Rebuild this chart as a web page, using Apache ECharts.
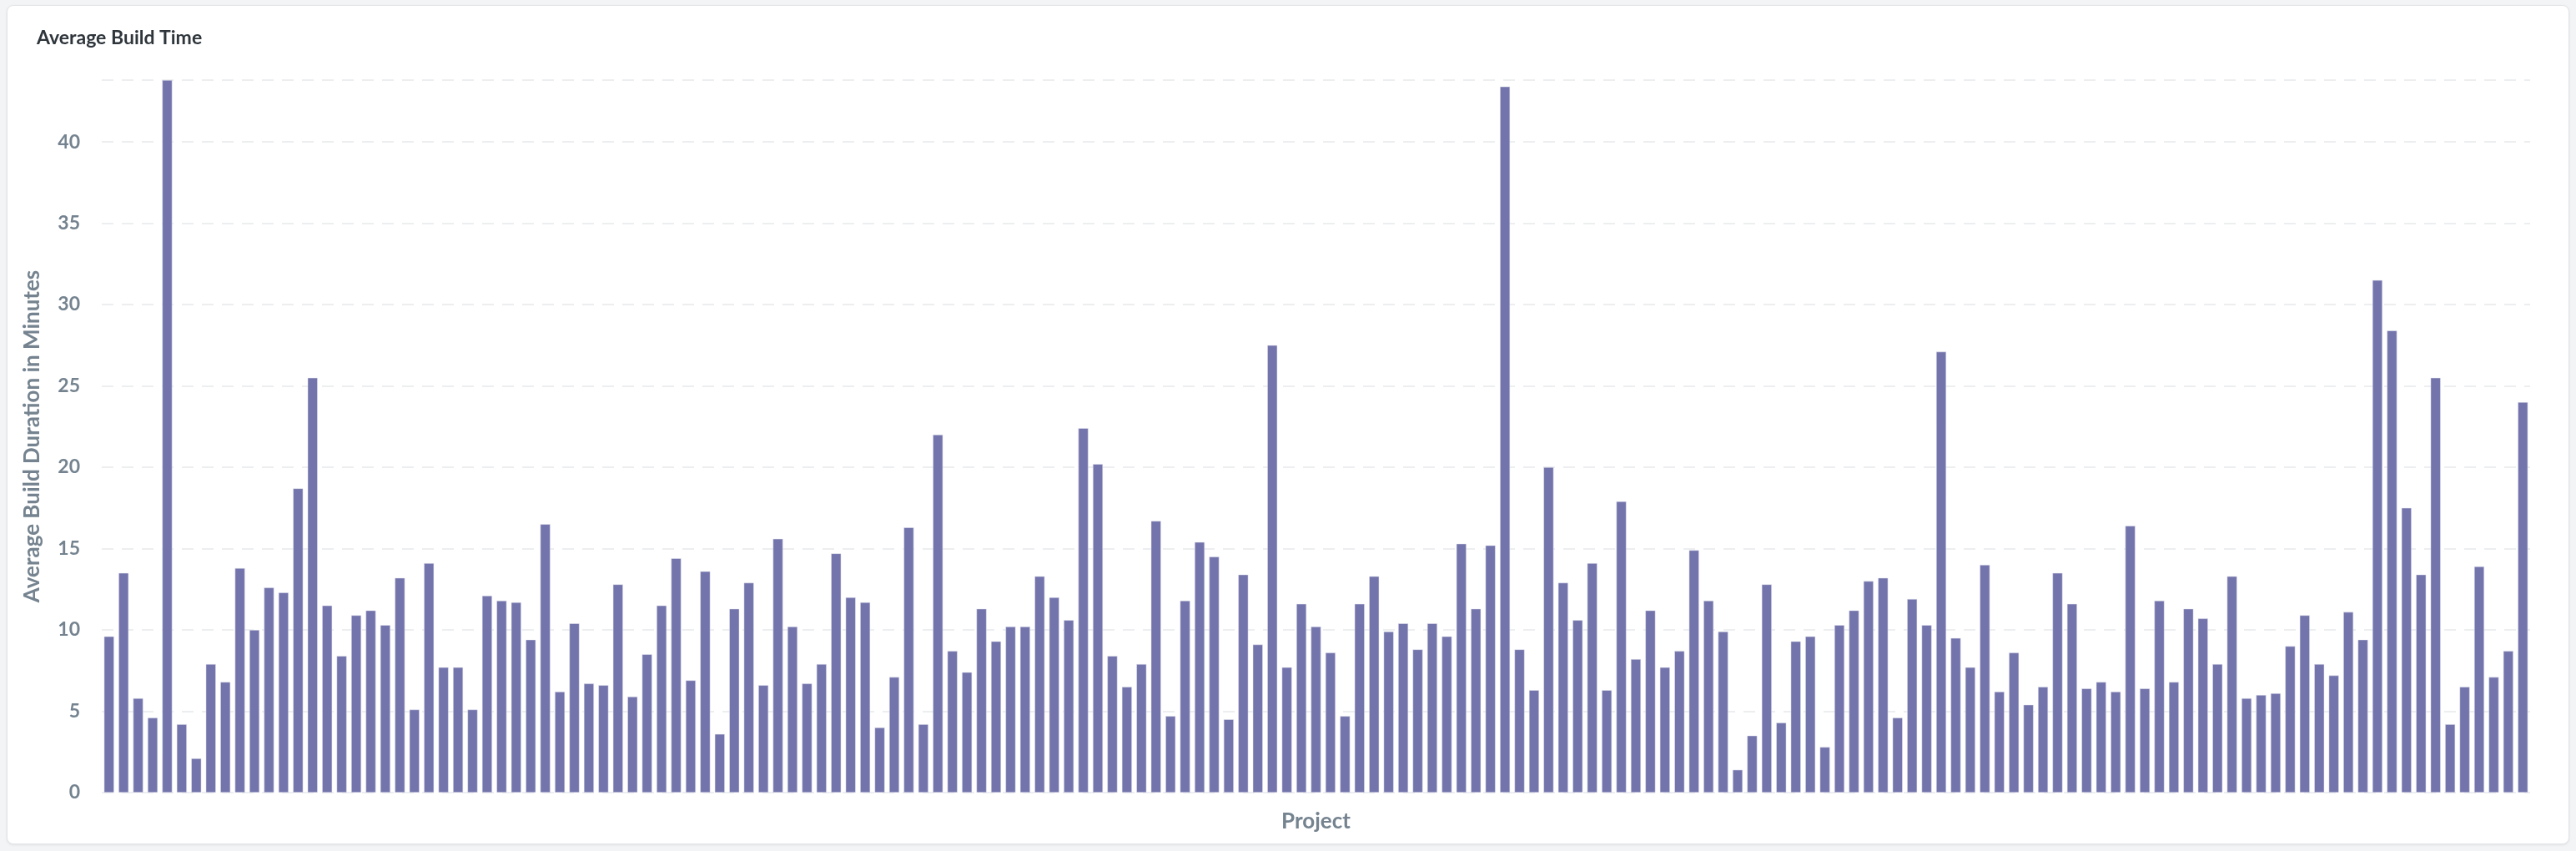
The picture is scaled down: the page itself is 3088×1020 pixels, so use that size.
<!DOCTYPE html>
<html lang="en">
<head>
<meta charset="UTF-8">
<title>Average Build Time</title>
<script src="https://cdn.jsdelivr.net/npm/echarts@6.0.0/dist/echarts.min.js"></script>
<style>
    html, body { margin: 0; padding: 0; background: #f3f4f5; }
    #card {
        position: absolute; left: 8px; top: 6px; width: 3070px; height: 1004px;
        background: #fff; border: 1px solid #e2e4e6; border-radius: 8px;
        box-shadow: 0 1px 3px rgba(0,0,0,0.08);
    }
    #main { width: 100%; height: 100%; }
</style>
</head>
<body>
<div id="card"><div id="main"></div></div>
<script>
    var buildMinutes = [
        9.6, 13.5, 5.8, 4.6, 43.8, 4.2, 2.1, 7.9, 6.8, 13.8,
        10.0, 12.6, 12.3, 18.7, 25.5, 11.5, 8.4, 10.9, 11.2, 10.3,
        13.2, 5.1, 14.1, 7.7, 7.7, 5.1, 12.1, 11.8, 11.7, 9.4,
        16.5, 6.2, 10.4, 6.7, 6.6, 12.8, 5.9, 8.5, 11.5, 14.4,
        6.9, 13.6, 3.6, 11.3, 12.9, 6.6, 15.6, 10.2, 6.7, 7.9,
        14.7, 12.0, 11.7, 4.0, 7.1, 16.3, 4.2, 22.0, 8.7, 7.4,
        11.3, 9.3, 10.2, 10.2, 13.3, 12.0, 10.6, 22.4, 20.2, 8.4,
        6.5, 7.9, 16.7, 4.7, 11.8, 15.4, 14.5, 4.5, 13.4, 9.1,
        27.5, 7.7, 11.6, 10.2, 8.6, 4.7, 11.6, 13.3, 9.9, 10.4,
        8.8, 10.4, 9.6, 15.3, 11.3, 15.2, 43.4, 8.8, 6.3, 20.0,
        12.9, 10.6, 14.1, 6.3, 17.9, 8.2, 11.2, 7.7, 8.7, 14.9,
        11.8, 9.9, 1.4, 3.5, 12.8, 4.3, 9.3, 9.6, 2.8, 10.3,
        11.2, 13.0, 13.2, 4.6, 11.9, 10.3, 27.1, 9.5, 7.7, 14.0,
        6.2, 8.6, 5.4, 6.5, 13.5, 11.6, 6.4, 6.8, 6.2, 16.4,
        6.4, 11.8, 6.8, 11.3, 10.7, 7.9, 13.3, 5.8, 6.0, 6.1,
        9.0, 10.9, 7.9, 7.2, 11.1, 9.4, 31.5, 28.4, 17.5, 13.4,
        25.5, 4.2, 6.5, 13.9, 7.1, 8.7, 24.0
    ];
    var projects = buildMinutes.map(function (v, i) { return 'Project ' + (i + 1); });

    var chart = echarts.init(document.getElementById('main'));
    var labelColor = '#74838f';

    chart.setOption({
        animation: false,
        textStyle: { fontFamily: 'Lato' },
        title: {
            text: 'Average Build Time',
            left: 30, top: 22,
            textStyle: { fontFamily: 'Lato', fontSize: 23, fontWeight: 'bold', color: '#2e353b' }
        },
        grid: { left: 113, right: 46, top: 89, bottom: 61 },
        xAxis: {
            type: 'category',
            data: projects,
            name: 'Project',
            nameLocation: 'middle',
            nameGap: 22,
            nameTextStyle: { fontSize: 26, fontWeight: 'bold', color: labelColor },
            axisLine: { show: false },
            axisTick: { show: false },
            axisLabel: { show: false }
        },
        yAxis: {
            type: 'value',
            min: 0,
            max: 43.8,
            interval: 5,
            name: 'Average Build Duration in Minutes',
            nameLocation: 'middle',
            nameGap: 70,
            nameTextStyle: { fontSize: 26, fontWeight: 'bold', color: labelColor },
            axisLabel: {
                fontSize: 23, fontWeight: 'bold', color: labelColor, margin: 26,
                showMaxLabel: false
            },
            splitLine: { lineStyle: { color: '#eceef0', type: [14, 10], width: 2 } }
        },
        series: [{
            type: 'bar',
            data: buildMinutes,
            barCategoryGap: '31%',
            itemStyle: { color: '#7374ab', borderColor: '#e8e8f2', borderWidth: 0.5 }
        }]
    });
</script>
</body>
</html>
